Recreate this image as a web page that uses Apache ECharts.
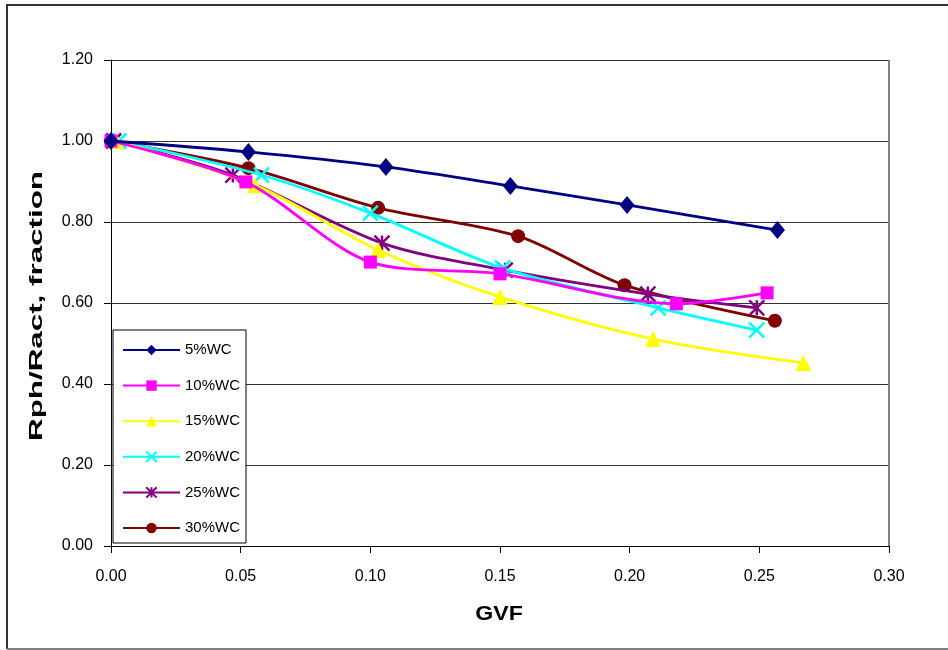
<!DOCTYPE html>
<html>
<head>
<meta charset="utf-8">
<script src="https://cdn.jsdelivr.net/npm/echarts@6/dist/echarts.min.js"></script>
<style>
html,body{margin:0;padding:0;background:#fff;}
#chart{width:948px;height:650px;}
</style>
</head>
<body>
<div id="chart"></div>
<script>
// ---- data ----
var seriesNames = ['5%WC', '10%WC', '15%WC', '20%WC', '25%WC', '30%WC'];
var gvf5  = [0.000, 0.053, 0.106, 0.154, 0.199, 0.257];
var val5  = [1.000, 0.973, 0.936, 0.889, 0.842, 0.780];
var gvf10 = [0.000, 0.052, 0.100, 0.150, 0.218, 0.253];
var val10 = [1.000, 0.899, 0.701, 0.672, 0.598, 0.625];
var gvf15 = [0.002, 0.0555, 0.103, 0.150, 0.209, 0.267];
var val15 = [1.000, 0.891, 0.731, 0.615, 0.511, 0.452];
var gvf20 = [0.003, 0.058, 0.100, 0.151, 0.211, 0.249];
var val20 = [1.000, 0.916, 0.822, 0.686, 0.588, 0.533];
var gvf25 = [0.001, 0.047, 0.1045, 0.152, 0.207, 0.249];
var val25 = [1.000, 0.916, 0.748, 0.681, 0.622, 0.588];
var gvf30 = [0.000, 0.053, 0.103, 0.157, 0.198, 0.256];
var val30 = [1.000, 0.933, 0.835, 0.765, 0.644, 0.556];
var xTicks = [0.00, 0.05, 0.10, 0.15, 0.20, 0.25, 0.30];
var yTicks = [0.00, 0.20, 0.40, 0.60, 0.80, 1.00, 1.20];
var xTitle = 'GVF';
var yTitle = 'Rph/Ract, fraction';

function pairs(xs, ys){ return xs.map(function(x,i){ return [x, ys[i]]; }); }

var FONT = '"Liberation Sans", Arial, sans-serif';
var colors = ['#000080', '#FF00FF', '#FFFF00', '#00FFFF', '#800080', '#800000'];
var symbols = [
  'diamond',
  'rect',
  'triangle',
  'path://M0,0L10,10M10,0L0,10',
  'path://M5,0L5,10M0,0L10,10M10,0L0,10',
  'circle'
];
var sizes = [[15,18], 13, 16, 15, 15, 14];
var datasets = [
  pairs(gvf5, val5), pairs(gvf10, val10), pairs(gvf15, val15),
  pairs(gvf20, val20), pairs(gvf25, val25), pairs(gvf30, val30)
];

var series = seriesNames.map(function(name, i){
  var isStroke = (i === 3 || i === 4);
  return {
    name: name,
    type: 'line',
    data: datasets[i],
    smooth: 0.3,
    symbol: symbols[i],
    symbolSize: sizes[i],
    showAllSymbol: true,
    lineStyle: { color: colors[i], width: 2.8 },
    itemStyle: isStroke ? { color: colors[i], borderColor: colors[i], borderWidth: 2.5 }
                        : { color: colors[i], borderWidth: 0 },
    z: 10 - i,
    emphasis: { disabled: true },
    animation: false
  };
});

var chart = echarts.init(document.getElementById('chart'), null, { renderer: 'canvas' });
chart.setOption({
  animation: false,
  backgroundColor: '#fff',
  textStyle: { fontFamily: FONT },
  grid: { left: 111, top: 60, right: 59, bottom: 104, show: true, borderColor: 'transparent', backgroundColor: '#fff' },
  graphic: [
    { type: 'polyline', shape: { points: [[7, 649], [7, 5], [948, 5]] }, style: { stroke: '#333', lineWidth: 2, fill: null }, z: 0 },
    { type: 'line', shape: { x1: 7, y1: 649, x2: 948, y2: 649 }, style: { stroke: '#808080', lineWidth: 2 }, z: 0 },
    { type: 'line', shape: { x1: 889, y1: 60, x2: 889, y2: 546 }, style: { stroke: '#808080', lineWidth: 2 }, z: 1 },
    { type: 'text', x: 37, y: 306, rotation: Math.PI / 2, scaleX: 1.65, scaleY: 1,
      style: { text: yTitle, fontSize: 19, fontWeight: 'bold', fill: '#000',
               fontFamily: FONT, align: 'center', verticalAlign: 'middle' }, z: 5 },
    { type: 'text', x: 499, y: 614, scaleX: 1.1, scaleY: 1,
      style: { text: xTitle, fontSize: 21, fontWeight: 'bold', fill: '#000',
               fontFamily: FONT, align: 'center', verticalAlign: 'middle' }, z: 5 }
  ],
  legend: {
    orient: 'vertical',
    left: 113,
    top: 330,
    itemWidth: 57,
    itemHeight: 13,
    itemGap: 17.6,
    padding: [11, 6, 6, 9],
    backgroundColor: '#fff',
    borderColor: '#000',
    borderWidth: 1,
    textStyle: { fontSize: 15, lineHeight: 18, color: '#000', fontFamily: FONT },
    data: seriesNames,
    selectedMode: false
  },
  xAxis: {
    type: 'value',
    min: 0, max: 0.3, interval: 0.05,
    axisLine: { show: true, onZero: false, lineStyle: { color: '#000', width: 1 } },
    axisTick: { show: true, inside: false, length: 7, lineStyle: { color: '#000' } },
    axisLabel: { fontSize: 16, color: '#000', margin: 23, fontFamily: FONT, formatter: function(v){ return v.toFixed(2); } },
    splitLine: { show: false }
  },
  yAxis: {
    type: 'value',
    min: 0, max: 1.2, interval: 0.2,
    axisLine: { show: true, onZero: false, lineStyle: { color: '#000', width: 1 } },
    axisTick: { show: true, inside: false, length: 7, lineStyle: { color: '#000' } },
    axisLabel: { fontSize: 16, color: '#000', margin: 18, fontFamily: FONT, formatter: function(v){ return v.toFixed(2); } },
    splitLine: { show: true, lineStyle: { color: '#333', width: 1 } }
  },
  series: series
});
</script>
</body>
</html>
